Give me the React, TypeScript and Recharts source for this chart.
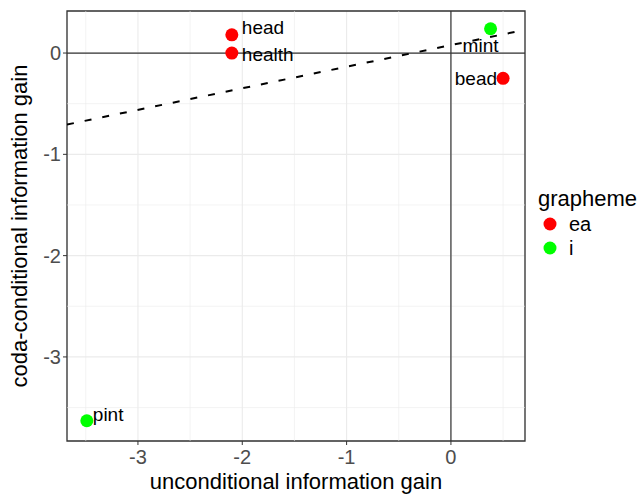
import React from 'react';
import {
  ScatterChart,
  Scatter,
  XAxis,
  YAxis,
  CartesianGrid,
  ReferenceLine,
  ReferenceArea,
  LabelList,
} from 'recharts';

// words and their information gain values
const words = ['head', 'health', 'mint', 'bead', 'pint'];
const graphemes = ['ea', 'ea', 'i', 'ea', 'i'];
const unconditionalGain = [-2.1, -2.1, 0.38, 0.5, -3.49];
const codaGain = [0.18, 0.0, 0.24, -0.25, -3.63];

const graphemeLevels = ['ea', 'i'];
const graphemeColors = ['#FF0000', '#00FF00'];

const xTicks = [-3, -2, -1, 0];
const yTicks = [-3, -2, -1, 0];
const xMinor = [-3.5, -2.5, -1.5, -0.5, 0.5];
const yMinor = [-3.5, -2.5, -1.5, -0.5];
const xDomain = [-3.68, 0.71];
const yDomain = [-3.83, 0.415];

// fitted trend line (dashed)
const trendSlope = 0.213;
const trendIntercept = 0.078;

const FONT = '"Liberation Sans", Arial, sans-serif';

const rows = words.map((w, i) => ({
  word: w,
  grapheme: graphemes[i],
  x: unconditionalGain[i],
  y: codaGain[i],
}));

// where each word's label sits relative to its point
const labelPlace: Record<string, { dx: number; dy: number; anchor: string }> = {
  head: { dx: 10, dy: -7, anchor: 'start' },
  health: { dx: 10, dy: 1, anchor: 'start' },
  mint: { dx: -10, dy: 17, anchor: 'middle' },
  bead: { dx: -6, dy: 0, anchor: 'end' },
  pint: { dx: 6, dy: -6, anchor: 'start' },
};

const WordLabel = (props: any) => {
  const { x, y, width, height, value } = props;
  const cx = x + (width || 0) / 2;
  const cy = y + (height || 0) / 2;
  const p = labelPlace[value] || { dx: 8, dy: 0, anchor: 'start' };
  return (
    <text
      x={cx + p.dx}
      y={cy + p.dy}
      textAnchor={p.anchor}
      dominantBaseline="central"
      fontSize={19}
      fontFamily={FONT}
      fill="#000"
    >
      {value}
    </text>
  );
};

const Dot = (props: any) => {
  const { cx, cy, fill } = props;
  return <circle cx={cx} cy={cy} r={6.5} fill={fill} />;
};

const GraphemeLegend = () => (
  <div style={{ position: 'absolute', left: 538, top: 186, fontFamily: FONT }}>
    <div style={{ fontSize: 22, color: '#000', lineHeight: '26px' }}>grapheme</div>
    {graphemeLevels.map((g, i) => (
      <div key={g} style={{ display: 'flex', alignItems: 'center', height: 24 }}>
        <svg width={24} height={20}>
          <circle cx={12} cy={10} r={6.5} fill={graphemeColors[i]} />
        </svg>
        <span style={{ fontSize: 20, marginLeft: 7, color: '#000' }}>{g}</span>
      </div>
    ))}
  </div>
);

export default function App() {
  const x0 = xDomain[0];
  const x1 = xDomain[1];
  return (
    <div style={{ position: 'absolute', left: 0, top: 0, width: 641, height: 497, background: '#fff' }}>
      <ScatterChart width={641} height={497} margin={{ top: 11, right: 116, left: 0, bottom: 0 }}>
        <CartesianGrid stroke="#EBEBEB" strokeWidth={1.1} />
        {xMinor.map((v) => (
          <ReferenceLine key={'xm' + v} x={v} stroke="#EBEBEB" strokeWidth={0.6} />
        ))}
        {yMinor.map((v) => (
          <ReferenceLine key={'ym' + v} y={v} stroke="#EBEBEB" strokeWidth={0.6} />
        ))}
        <XAxis
          type="number"
          dataKey="x"
          domain={xDomain}
          ticks={xTicks}
          allowDataOverflow
          height={56}
          tickSize={4}
          tickLine={{ stroke: '#333' }}
          axisLine={false}
          tick={{ fontSize: 20, fill: '#4D4D4D', fontFamily: FONT, dy: 3 }}
          label={{
            value: 'unconditional information gain',
            position: 'insideBottom',
            offset: 8,
            style: { fontSize: 22, fill: '#000', fontFamily: FONT },
          }}
        />
        <YAxis
          type="number"
          dataKey="y"
          domain={yDomain}
          ticks={yTicks}
          allowDataOverflow
          width={67}
          tickSize={4}
          tickLine={{ stroke: '#333' }}
          axisLine={false}
          tick={{ fontSize: 20, fill: '#4D4D4D', fontFamily: FONT }}
          label={{
            value: 'coda-conditional information gain',
            angle: -90,
            position: 'insideLeft',
            offset: 19,
            style: { fontSize: 22, fill: '#000', fontFamily: FONT, textAnchor: 'middle' },
          }}
        />
        <ReferenceLine x={0} stroke="#333" strokeWidth={1.2} />
        <ReferenceLine y={0} stroke="#333" strokeWidth={1.2} />
        <ReferenceLine
          segment={[
            { x: x0, y: trendIntercept + trendSlope * x0 },
            { x: x1, y: trendIntercept + trendSlope * x1 },
          ]}
          stroke="#000"
          strokeWidth={2}
          strokeDasharray="7 11"
          ifOverflow="hidden"
        />
        {graphemeLevels.map((g, i) => (
          <Scatter
            key={g}
            name={g}
            data={rows.filter((r) => r.grapheme === g)}
            fill={graphemeColors[i]}
            shape={<Dot />}
            isAnimationActive={false}
          >
            <LabelList dataKey="word" content={<WordLabel />} />
          </Scatter>
        ))}
        <ReferenceArea
          x1={xDomain[0]}
          x2={xDomain[1]}
          y1={yDomain[0]}
          y2={yDomain[1]}
          fill="none"
          fillOpacity={0}
          stroke="#333"
          strokeWidth={1.3}
        />
      </ScatterChart>
      <GraphemeLegend />
    </div>
  );
}
